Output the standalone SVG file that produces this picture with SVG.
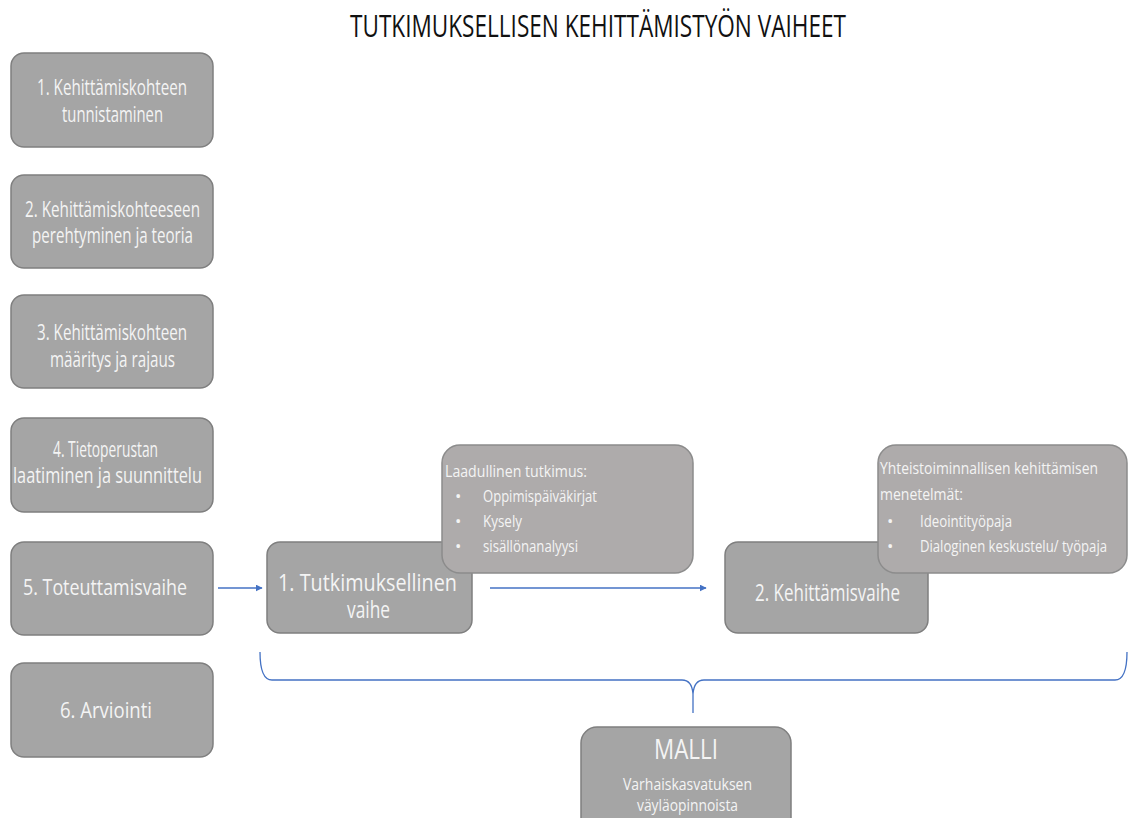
<svg xmlns="http://www.w3.org/2000/svg" width="1129" height="818" viewBox="0 0 1129 818">
<defs>
<style>
.box{fill:#a5a5a5;stroke:#7f7f7f;stroke-width:1.5}
.call{fill:#aeabab;stroke:#8c8c8c;stroke-width:1.5}
text{font-family:"Open Sans","Noto Sans","DejaVu Sans",sans-serif;fill:#f4f4f4}
.t18{font-size:21px}
.t22{font-size:23px}
.t15{font-size:17px}
.title{font-size:31px;fill:#111}
.conn{stroke:#4472c4;stroke-width:1.3;fill:none}
</style>
<marker id="ah" viewBox="0 0 10 10" refX="9" refY="5" markerWidth="7" markerHeight="7" markerUnits="userSpaceOnUse" orient="auto">
<path d="M0,0 L10,5 L0,10 z" fill="#4472c4"/>
</marker>
</defs>
<rect width="1129" height="818" fill="#ffffff"/>
<text class="title" x="350" y="37" textLength="496" lengthAdjust="spacingAndGlyphs">TUTKIMUKSELLISEN KEHITTÄMISTYÖN VAIHEET</text>

<g id="step1">
<rect class="box" x="11" y="53" width="202" height="94" rx="13"/>
<text class="t18" x="37" y="95" textLength="150" lengthAdjust="spacingAndGlyphs">1. Kehittämiskohteen</text>
<text class="t18" x="62" y="122" textLength="101" lengthAdjust="spacingAndGlyphs">tunnistaminen</text>
</g>
<g id="step2">
<rect class="box" x="11" y="175" width="202" height="93" rx="13"/>
<text class="t18" x="25" y="217" textLength="175" lengthAdjust="spacingAndGlyphs">2. Kehittämiskohteeseen</text>
<text class="t18" x="32" y="243" textLength="161" lengthAdjust="spacingAndGlyphs">perehtyminen ja teoria</text>
</g>
<g id="step3">
<rect class="box" x="11" y="295" width="202" height="93" rx="13"/>
<text class="t18" x="37" y="340" textLength="150" lengthAdjust="spacingAndGlyphs">3. Kehittämiskohteen</text>
<text class="t18" x="50" y="367" textLength="125" lengthAdjust="spacingAndGlyphs">määritys ja rajaus</text>
</g>
<g id="step4">
<rect class="box" x="11" y="418" width="202" height="94" rx="13"/>
<text class="t18" x="53" y="457" textLength="105" lengthAdjust="spacingAndGlyphs">4. Tietoperustan</text>
<text class="t18" x="13" y="483" textLength="189" lengthAdjust="spacingAndGlyphs">laatiminen ja suunnittelu</text>
</g>
<g id="step5">
<rect class="box" x="11" y="542" width="202" height="93" rx="13"/>
<text class="t18" x="23" y="595" textLength="164" lengthAdjust="spacingAndGlyphs">5. Toteuttamisvaihe</text>
</g>
<g id="step6">
<rect class="box" x="11" y="663" width="202" height="94" rx="13"/>
<text class="t18" x="60" y="718" textLength="92" lengthAdjust="spacingAndGlyphs">6. Arviointi</text>
</g>

<g id="phase1">
<rect class="box" x="267" y="542" width="205" height="91" rx="13"/>
<text class="t22" x="278" y="591" textLength="179" lengthAdjust="spacingAndGlyphs">1. Tutkimuksellinen</text>
<text class="t22" x="347" y="618" textLength="43" lengthAdjust="spacingAndGlyphs">vaihe</text>
</g>
<g id="callout1">
<rect class="call" x="442" y="445" width="251" height="128" rx="18"/>
<text class="t15" x="445" y="477" textLength="142" lengthAdjust="spacingAndGlyphs">Laadullinen tutkimus:</text>
<text class="t15" x="455" y="502">•</text>
<text class="t15" x="483" y="502" textLength="114" lengthAdjust="spacingAndGlyphs">Oppimispäiväkirjat</text>
<text class="t15" x="455" y="527">•</text>
<text class="t15" x="483" y="527" textLength="39" lengthAdjust="spacingAndGlyphs">Kysely</text>
<text class="t15" x="455" y="552">•</text>
<text class="t15" x="483" y="552" textLength="95" lengthAdjust="spacingAndGlyphs">sisällönanalyysi</text>
</g>

<g id="phase2">
<rect class="box" x="725" y="542" width="203" height="91" rx="13"/>
<text class="t22" x="755" y="601" textLength="145" lengthAdjust="spacingAndGlyphs">2. Kehittämisvaihe</text>
</g>
<g id="callout2">
<rect class="call" x="878" y="445" width="249" height="128" rx="18"/>
<text class="t15" x="880" y="474" textLength="218" lengthAdjust="spacingAndGlyphs">Yhteistoiminnallisen kehittämisen</text>
<text class="t15" x="880" y="500" textLength="83" lengthAdjust="spacingAndGlyphs">menetelmät:</text>
<text class="t15" x="887" y="527">•</text>
<text class="t15" x="920" y="527" textLength="92" lengthAdjust="spacingAndGlyphs">Ideointityöpaja</text>
<text class="t15" x="887" y="552">•</text>
<text class="t15" x="920" y="552" textLength="187" lengthAdjust="spacingAndGlyphs">Dialoginen keskustelu/ työpaja</text>
</g>

<g id="malli">
<rect class="box" x="581" y="727" width="210" height="110" rx="16"/>
<text x="654" y="759" style="font-size:28px" textLength="64" lengthAdjust="spacingAndGlyphs">MALLI</text>
<text class="t15" x="623" y="790" textLength="129" lengthAdjust="spacingAndGlyphs">Varhaiskasvatuksen</text>
<text class="t15" x="637" y="811" textLength="101" lengthAdjust="spacingAndGlyphs">väyläopinnoista</text>
</g>

<g id="connectors">
<line class="conn" x1="218" y1="588" x2="262" y2="588" marker-end="url(#ah)"/>
<line class="conn" x1="490" y1="588" x2="706" y2="588" marker-end="url(#ah)"/>
<path class="conn" d="M260,652 Q260,680 272,680 L682,680 Q692,680 693,694 L693,713 M693,694 Q694,680 704,680 L1115,680 Q1127,680 1127,652"/>
</g>
</svg>
